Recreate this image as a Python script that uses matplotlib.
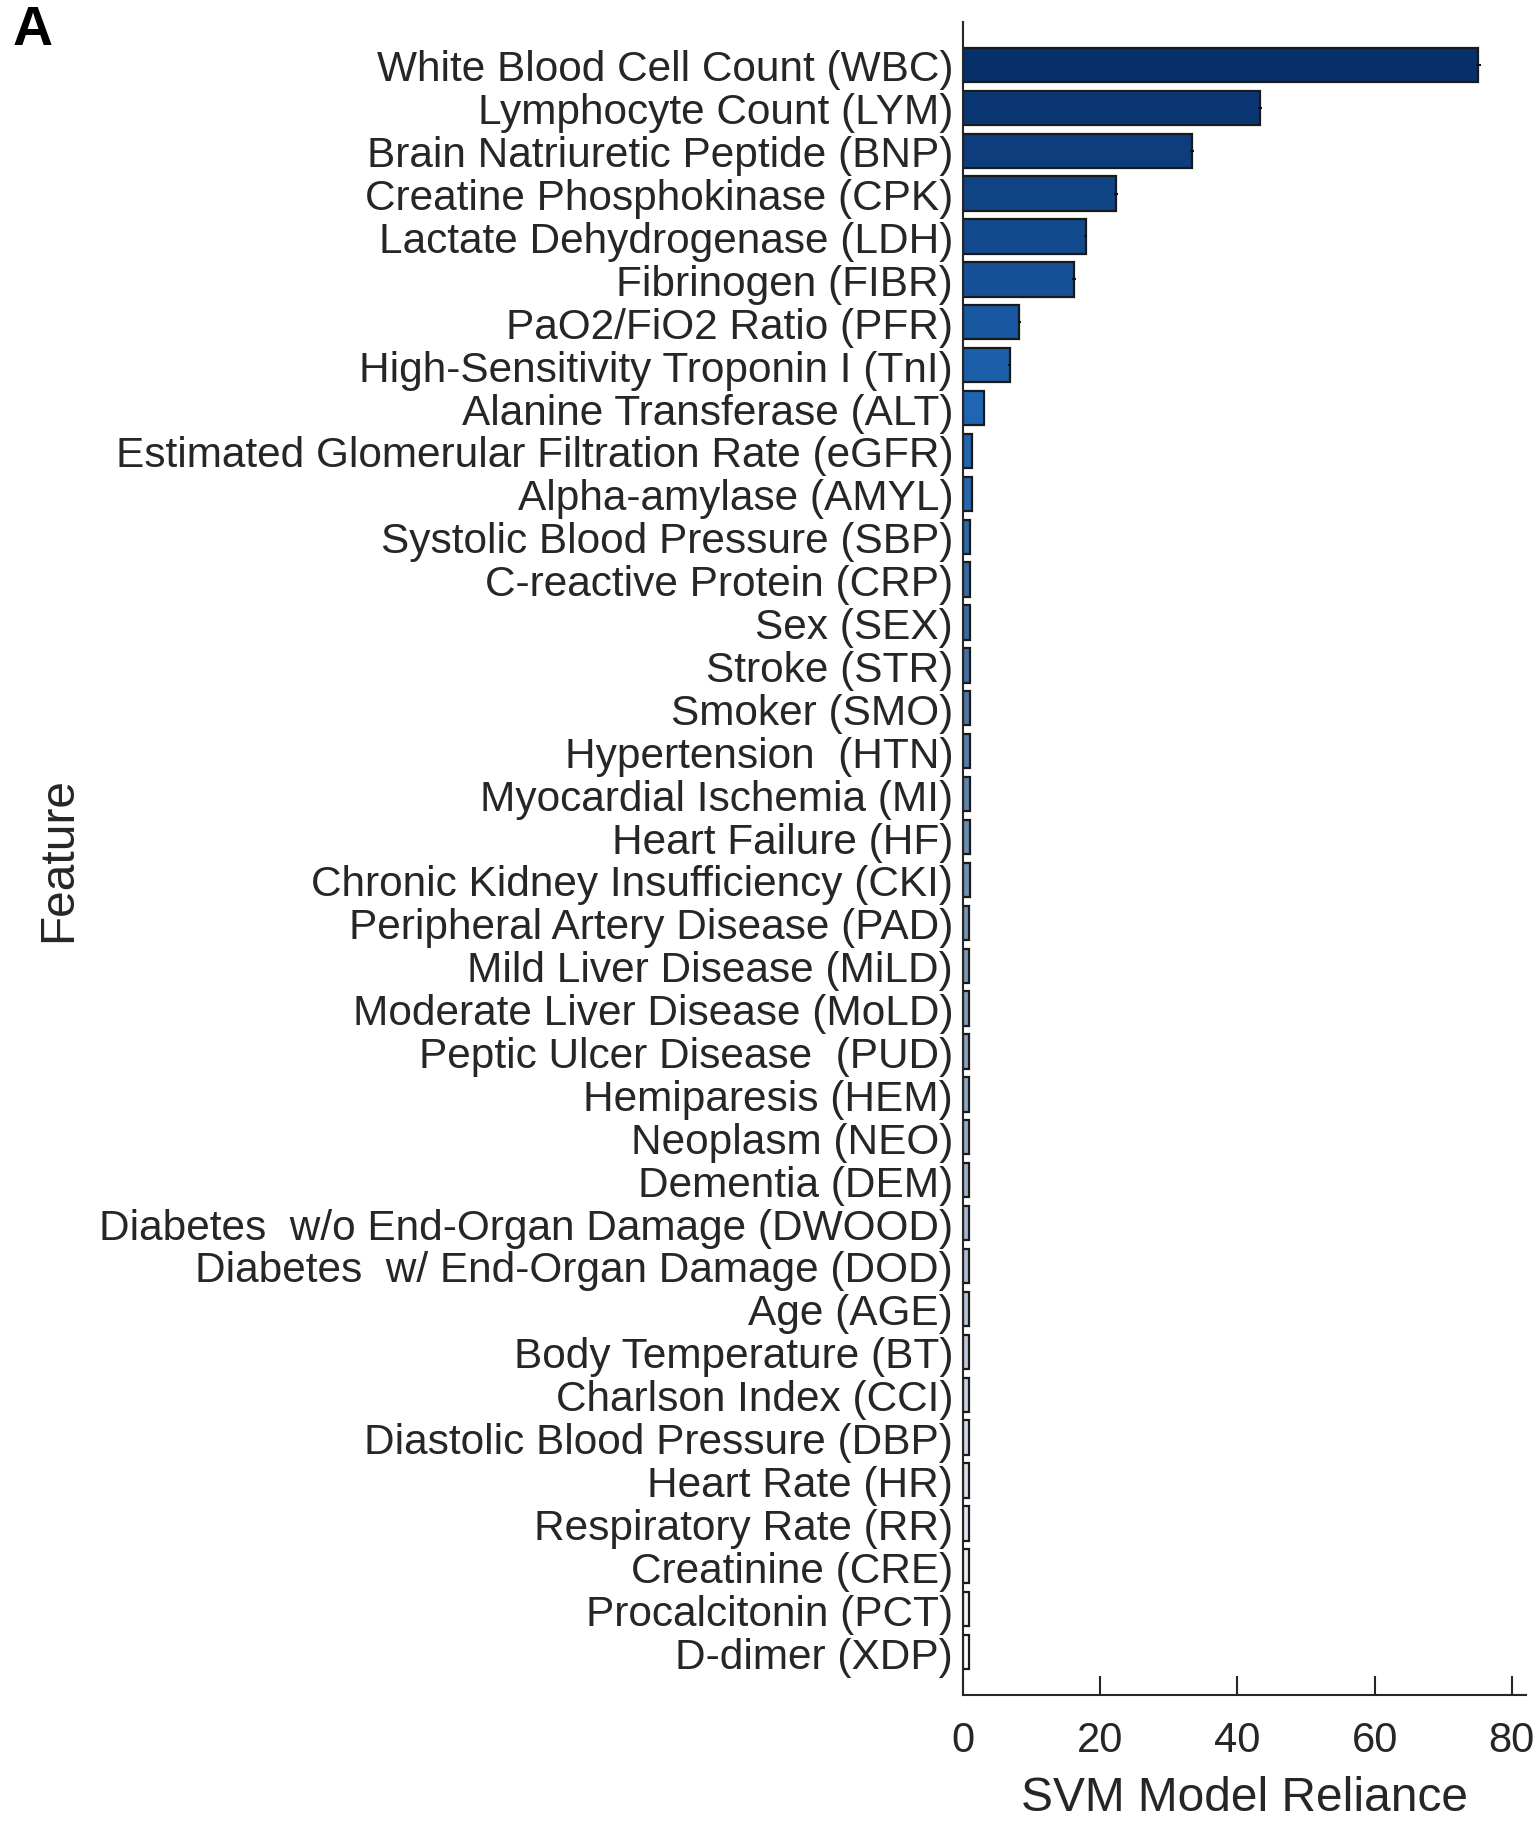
import numpy as np
import matplotlib
matplotlib.use('Agg')
import matplotlib.pyplot as plt
from matplotlib.colors import LinearSegmentedColormap

# Feature names, top to bottom
features = [
    'White Blood Cell Count (WBC)', 'Lymphocyte Count (LYM)', 'Brain Natriuretic Peptide (BNP)',
    'Creatine Phosphokinase (CPK)', 'Lactate Dehydrogenase (LDH)', 'Fibrinogen (FIBR)',
    'PaO2/FiO2 Ratio (PFR)', 'High-Sensitivity Troponin I (TnI)', 'Alanine Transferase (ALT)',
    'Estimated Glomerular Filtration Rate (eGFR)', 'Alpha-amylase (AMYL)', 'Systolic Blood Pressure (SBP)',
    'C-reactive Protein (CRP)', 'Sex (SEX)', 'Stroke (STR)', 'Smoker (SMO)', 'Hypertension  (HTN)',
    'Myocardial Ischemia (MI)', 'Heart Failure (HF)', 'Chronic Kidney Insufficiency (CKI)',
    'Peripheral Artery Disease (PAD)', 'Mild Liver Disease (MiLD)', 'Moderate Liver Disease (MoLD)',
    'Peptic Ulcer Disease  (PUD)', 'Hemiparesis (HEM)', 'Neoplasm (NEO)', 'Dementia (DEM)',
    'Diabetes  w/o End-Organ Damage (DWOOD)', 'Diabetes  w/ End-Organ Damage (DOD)', 'Age (AGE)',
    'Body Temperature (BT)', 'Charlson Index (CCI)', 'Diastolic Blood Pressure (DBP)', 'Heart Rate (HR)',
    'Respiratory Rate (RR)', 'Creatinine (CRE)', 'Procalcitonin (PCT)', 'D-dimer (XDP)',
]

reliance = [75.1, 43.3, 33.4, 22.3, 17.9, 16.2, 8.2, 6.8, 3.0,
            1.3, 1.25, 1.0, 1.0, 1.0, 0.98, 0.98, 0.97, 0.97, 0.96, 0.96,
            0.95, 0.95, 0.94, 0.94, 0.93, 0.93, 0.92, 0.92, 0.91, 0.91,
            0.9, 0.9, 0.9, 0.89, 0.89, 0.88, 0.88, 0.87]

errors = [0.35, 0.3, 0.3, 0.35, 0.25, 0.25, 0.2, 0.2, 0.1,
          0.05, 0.05, 0.03, 0.03, 0.03, 0.02, 0.02, 0.02, 0.02, 0.02, 0.02,
          0.02, 0.02, 0.02, 0.02, 0.02, 0.02, 0.02, 0.02, 0.02, 0.02,
          0.02, 0.02, 0.02, 0.02, 0.02, 0.02, 0.02, 0.02]

# colour anchors along the ranking (fraction of list, colour)
color_anchors = [(0.0, '#08306b'), (8 / 37, '#1e66b2'), (10 / 37, '#2667ab'),
                 (13 / 37, '#3d6a9c'), (18 / 37, '#6a8cae'), (25 / 37, '#97abc3'),
                 (31 / 37, '#c8d0e0'), (34 / 37, '#e2e5f0'), (1.0, '#ffffff')]

xticks = [0, 20, 40, 60, 80]


def main():
    plt.rcParams['font.family'] = ['Liberation Sans', 'DejaVu Sans']
    text_col = '#262626'

    fig = plt.figure(figsize=(15.4, 18.24), dpi=100)
    ax = fig.add_axes([0.6253, 0.0702, 0.3653, 0.9172])

    cmap = LinearSegmentedColormap.from_list('rel', color_anchors)
    n = len(features)
    pos = np.arange(1, n + 1)
    colors = [cmap(i / (n - 1)) for i in range(n)]

    ax.barh(pos, reliance, height=0.8, color=colors, edgecolor='#1a1a1a',
            linewidth=1.6, zorder=2)
    ax.errorbar(reliance[:9], pos[:9], xerr=errors[:9], fmt='none',
                ecolor='#111111', elinewidth=1.5, capsize=0, zorder=3)

    ax.set_ylim(n + 1, 0)
    ax.set_xlim(0, 82)
    ax.set_yticks(pos)
    ax.set_yticklabels(features, fontsize=30.5, color=text_col)
    ax.set_xticks(xticks)
    ax.set_xticklabels([str(t) for t in xticks], fontsize=30, color=text_col)
    ax.tick_params(axis='y', length=0, pad=7)
    ax.tick_params(axis='x', direction='in', length=14, width=1.5,
                   color=text_col, pad=18)

    for side in ['top', 'right']:
        ax.spines[side].set_visible(False)
    for side in ['left', 'bottom']:
        ax.spines[side].set_color(text_col)
        ax.spines[side].set_linewidth(1.5)

    ax.set_xlabel('SVM Model Reliance', fontsize=34.5, color=text_col, labelpad=11)
    ax.set_ylabel('Feature', fontsize=34.5, color=text_col)
    ax.yaxis.set_label_coords(-1.567, 0.5)

    fig.text(0.008, 0.997, 'A', fontsize=40, fontweight='bold', va='top', ha='left')

    fig.savefig('out.png', dpi=100)


if __name__ == '__main__':
    main()
